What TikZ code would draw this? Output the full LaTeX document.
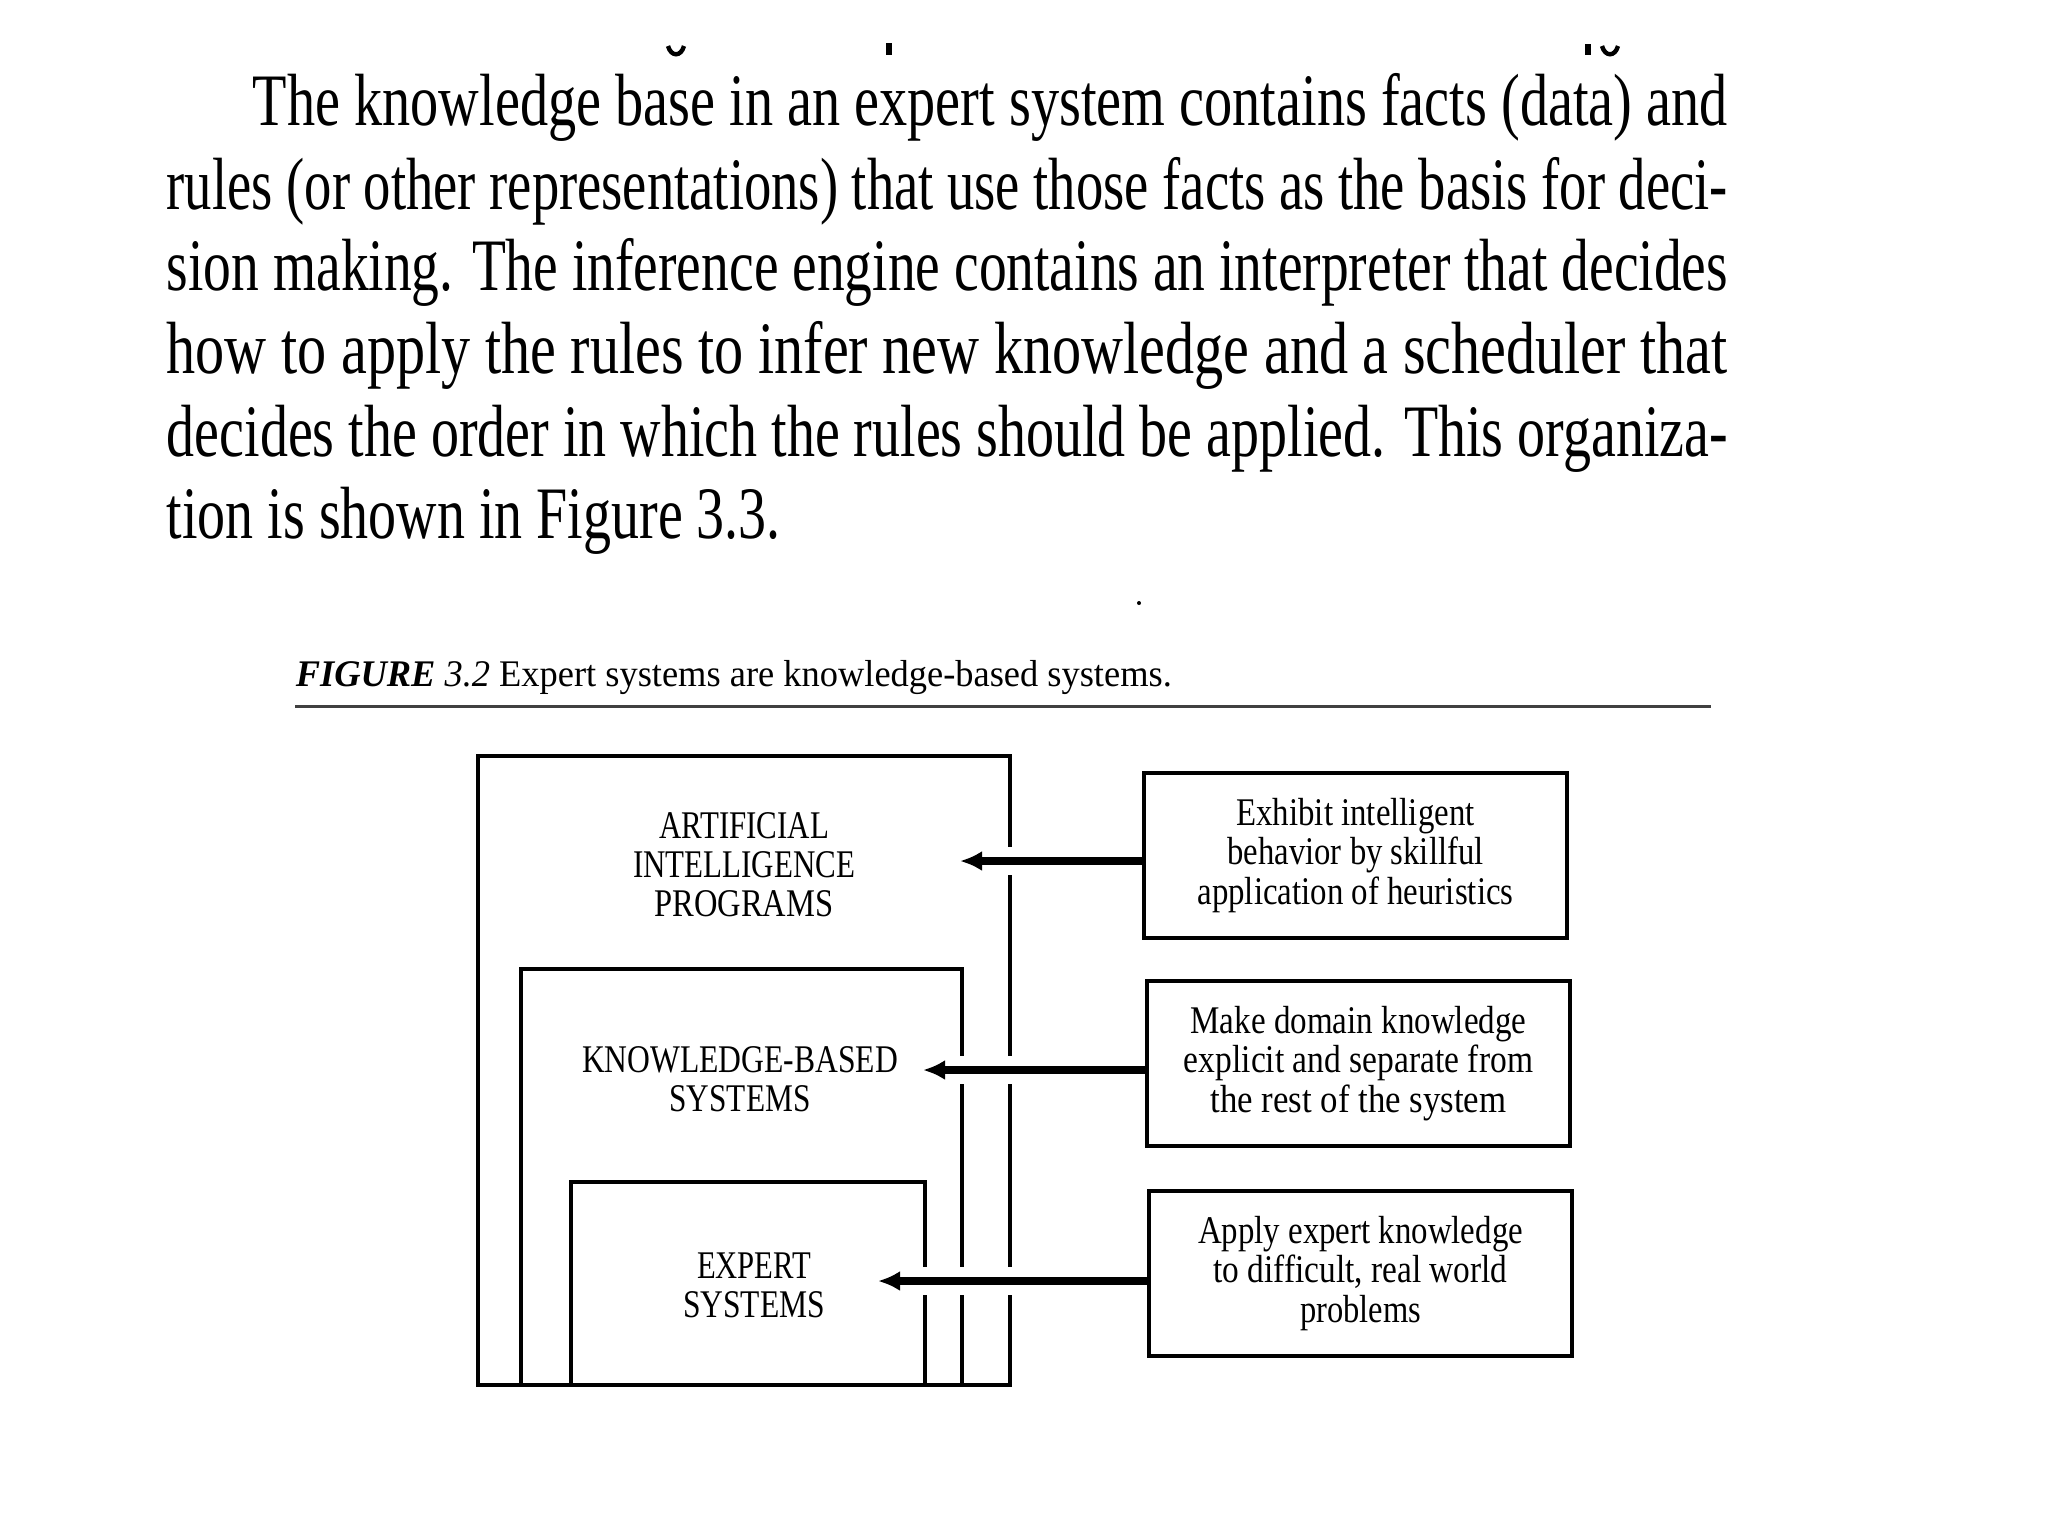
\documentclass[tikz,border=0pt]{standalone}
\usepackage{fontspec}
\setmainfont{Liberation Serif}
\usetikzlibrary{arrows.meta}
\newcommand\fw[2]{\resizebox{#1}{\height}{#2}}
\begin{document}
\begin{tikzpicture}[x=0.25pt,y=-0.25pt,
  para/.style={anchor=base west, inner sep=0pt, font=\fontsize{18.5}{20}\selectfont},
  lbl/.style={align=center, inner sep=0pt, font=\fontsize{9.8}{9.75}\selectfont},
  setbox/.style={draw, line width=1.1pt, inner sep=0pt},
  descbox/.style={draw, line width=1.2pt, minimum width=105.75pt, minimum height=41.25pt, inner sep=0pt, align=center, font=\fontsize{9.8}{9.9}\selectfont},
  arr/.style={line width=2pt, -{Latex[length=5.5pt,width=5pt]}},
  gapband/.style={white, line width=7pt}]
\useasboundingbox[fill=white] (0,0) rectangle (2048,1536);

% cut-off descenders of the previous line
\draw[line width=1.1pt] (668,46) .. controls (671,57) and (681,57) .. (684,46);
\draw[line width=1.3pt] (889,43) -- (889,55);
\draw[line width=1.3pt] (1588,44) -- (1588,55);
\draw[line width=1.1pt] (1602,46) .. controls (1605,57) and (1615,57) .. (1618,46);
\fill (1139,603) circle (2);

% paragraph
\node[para] (p1) at (252,125) {\fw{368.75pt}{The knowledge base in an expert system contains facts (data) and}};
\node[para] (p2) at (166,209) {\fw{390.25pt}{rules (or other representations) that use those facts as the basis for deci-}};
\node[para] (p3) at (166,290) {\fw{390.25pt}{sion making. The inference engine contains an interpreter that decides}};
\node[para] (p4) at (166,373) {\fw{390.25pt}{how to apply the rules to infer new knowledge and a scheduler that}};
\node[para] (p5) at (166,456) {\fw{390.25pt}{decides the order in which the rules should be applied. This organiza-}};
\node[para] (p6) at (166,538) {\fw{153.5pt}{tion is shown in Figure 3.3.}};

% caption
\node[anchor=base west, inner sep=0pt, font=\fontsize{9.4}{11}\selectfont] (cap) at (295,686)
  {\fw{219pt}{\textbf{\textit{FIGURE}} \textit{3.2} Expert systems are knowledge-based systems.}};
\draw[line width=0.75pt, black!75] (295,706) -- (1711,706);

% nested set boxes
\node[setbox, minimum width=133pt, minimum height=157.25pt] (ai) at (744,1070.5) {};
\node[setbox, minimum width=110.25pt, minimum height=104pt] (kbs) at (741.5,1177) {};
\node[setbox, minimum width=88.5pt, minimum height=50.75pt] (es) at (748,1283.5) {};

\node[lbl] (ait) at (744,865) {\fw{42.5pt}{ARTIFICIAL}\\\fw{55.5pt}{INTELLIGENCE}\\\fw{44.75pt}{PROGRAMS}};
\node[lbl] (kbst) at (740,1079) {\fw{79pt}{KNOWLEDGE-BASED}\\\fw{35.25pt}{SYSTEMS}};
\node[lbl] (est) at (754,1285) {\fw{28.5pt}{EXPERT}\\\fw{35.5pt}{SYSTEMS}};

% description boxes
\node[descbox] (d1) at (1355.5,855.5) {\fw{59.5pt}{Exhibit intelligent}\\\fw{64pt}{behavior by skillful}\\\fw{79pt}{application of heuristics}};
\node[descbox] (d2) at (1358.5,1063.5) {\fw{84pt}{Make domain knowledge}\\\fw{87.25pt}{explicit and separate from}\\\fw{74pt}{the rest of the system}};
\node[descbox] (d3) at (1360.5,1273.5) {\fw{81.25pt}{Apply expert knowledge}\\\fw{73.5pt}{to difficult, real world}\\\fw{30.25pt}{problems}};

% arrow tips
\coordinate (t1) at (960,861);
\coordinate (t2) at (923,1070);
\coordinate (t3) at (878,1281);

% gaps in the vertical box sides where arrows cross
\draw[gapband] ([xshift=3pt]t1) -- ([xshift=-3pt]d1.west |- t1);
\draw[gapband] ([xshift=3pt]t2) -- ([xshift=-3pt]d2.west |- t2);
\draw[gapband] ([xshift=3pt]t3) -- ([xshift=-3pt]d3.west |- t3);

% arrows
\draw[arr] (d1.west |- t1) -- (t1);
\draw[arr] (d2.west |- t2) -- (t2);
\draw[arr] (d3.west |- t3) -- (t3);
\end{tikzpicture}
\end{document}
